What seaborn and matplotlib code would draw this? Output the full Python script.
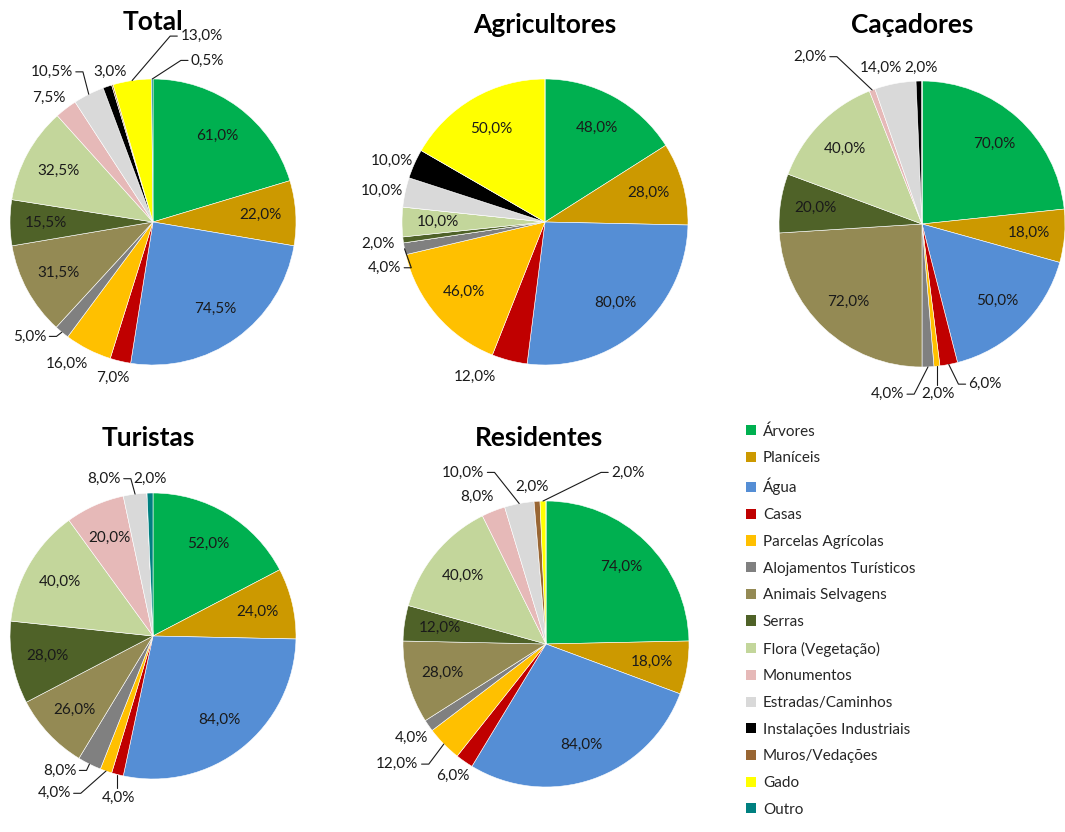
# Gráficos circulares: elementos da paisagem por grupo de inquiridos

import seaborn as sns
import matplotlib.pyplot as plt
import numpy as np
from matplotlib.patches import Patch

categorias = ['Árvores', 'Planíceis', 'Água', 'Casas', 'Parcelas Agrícolas',
              'Alojamentos Turísticos', 'Animais Selvagens', 'Serras',
              'Flora (Vegetação)', 'Monumentos', 'Estradas/Caminhos',
              'Instalações Industriais', 'Muros/Vedações', 'Gado', 'Outro']
cores = ['#00B050', '#CC9900', '#558ED5', '#C00000', '#FFC000',
         '#808080', '#948A54', '#4F6228', '#C3D69B', '#E6B9B8',
         '#D9D9D9', '#000000', '#996633', '#FFFF00', '#008080']

total = [61.0, 22.0, 74.5, 7.0, 16.0, 5.0, 31.5, 15.5, 32.5, 7.5, 10.5, 3.0, 0.5, 13.0, 0.5]
agricultores = [48, 28, 80, 12, 46, 4, 0, 2, 10, 0, 10, 10, 0, 50, 0]
cacadores = [70, 18, 50, 6, 2, 4, 72, 20, 40, 2, 14, 2, 0, 0, 0]
turistas = [52, 24, 84, 4, 4, 8, 26, 28, 40, 20, 8, 0, 0, 0, 2]
residentes = [74, 18, 84, 6, 12, 4, 28, 12, 40, 8, 10, 0, 2, 2, 0]

# rótulos fora da fatia: índice -> (x, y, linha de chamada) em unidades do raio
fora = {
    'Total': {3: (-0.28, -1.09, False), 4: (-0.60, -0.99, False), 5: (-0.86, -0.80, True),
              9: (-0.73, 0.87, False), 10: (-0.71, 1.05, True), 11: (-0.30, 1.05, False),
              12: None, 13: (0.34, 1.30, True), 14: (0.38, 1.13, True)},
    'Agricultores': {3: (-0.49, -1.08, False), 5: (-1.12, -0.32, True), 7: (-1.17, -0.15, False),
                     10: (-1.14, 0.22, False), 11: (-1.07, 0.43, False)},
    'Caçadores': {3: (0.44, -1.12, True), 4: (0.11, -1.19, True), 5: (-0.24, -1.19, True),
                  9: (-0.78, 1.17, True), 10: (-0.29, 1.09, False), 11: (-0.01, 1.09, False)},
    'Turistas': {3: (-0.24, -1.13, True), 4: (-0.69, -1.10, True), 5: (-0.65, -0.94, True),
                 10: (-0.34, 1.10, True), 14: (-0.02, 1.10, False)},
    'Residentes': {3: (-0.65, -0.92, False), 4: (-1.04, -0.84, True), 5: (-0.94, -0.66, False),
                   9: (-0.48, 1.03, False), 10: (-0.58, 1.20, True), 12: (-0.10, 1.10, False),
                   13: (0.57, 1.20, True)},
}

W, H = 1065, 832
# centro de cada gráfico (pixels) e posição do título
graficos = [('Total', total, (153, 222), (153, 22)),
            ('Agricultores', agricultores, (545, 222), (545, 25)),
            ('Caçadores', cacadores, (922, 224), (912, 25)),
            ('Turistas', turistas, (153, 636), (148, 438)),
            ('Residentes', residentes, (546, 644), (539, 438))]

sns.set_style('white')
plt.rcParams['font.family'] = ['Lato', 'DejaVu Sans']
cor_texto = '#1a1a1a'

fig = plt.figure(figsize=(W / 100, H / 100), dpi=100)
R = 143
lim = 1.4
lado = 2 * lim * R

def pct(v):
    return f'{v:.1f}%'.replace('.', ',')

for nome, valores, (cx, cy), (tx, ty) in graficos:
    ax = fig.add_axes([(cx - lado / 2) / W, (H - cy - lado / 2) / H, lado / W, lado / H])
    ax.pie(valores, colors=cores, startangle=90, counterclock=False,
           wedgeprops=dict(edgecolor='white', linewidth=0.4))
    ax.set_xlim(-lim, lim)
    ax.set_ylim(-lim, lim)
    ax.set_aspect('equal')
    ax.axis('off')

    soma = sum(valores)
    acum = 0
    for i, v in enumerate(valores):
        if v == 0:
            continue
        meio = (acum + v / 2) / soma * 2 * np.pi
        acum += v
        px, py = np.sin(meio), np.cos(meio)
        if i in fora[nome]:
            pos = fora[nome][i]
            if pos is None:
                continue
            lx, ly, linha = pos
            ax.text(lx, ly, pct(v), ha='center', va='center', fontsize=11, color=cor_texto)
            if linha:
                w = 0.15 if v >= 10 else 0.115
                h = 0.065
                if px > lx + w:
                    xs = [lx + w + 0.02, lx + w + 0.07, px]
                    ys = [ly, ly, py]
                elif px < lx - w:
                    xs = [lx - w - 0.02, lx - w - 0.07, px]
                    ys = [ly, ly, py]
                else:
                    yy = ly + h if py > ly else ly - h
                    xs = [px, px]
                    ys = [yy, py]
                ax.plot(xs, ys, color=cor_texto, lw=0.8, clip_on=False)
        else:
            ax.text(0.75 * px, 0.75 * py, pct(v), ha='center', va='center',
                    fontsize=11, color=cor_texto)

    fig.text(tx / W, 1 - ty / H, nome, ha='center', va='center',
             fontsize=19, fontweight='bold', color='black')

# legenda
alcas = [Patch(facecolor=c, edgecolor='none') for c in cores]
fig.legend(alcas, categorias, loc='upper left', bbox_to_anchor=(740 / W, 1 - 418 / H),
           frameon=False, fontsize=11, handlelength=0.65, handleheight=0.65,
           handletextpad=0.45, labelspacing=0.83, borderaxespad=0)

plt.savefig('out.png', dpi=100)
